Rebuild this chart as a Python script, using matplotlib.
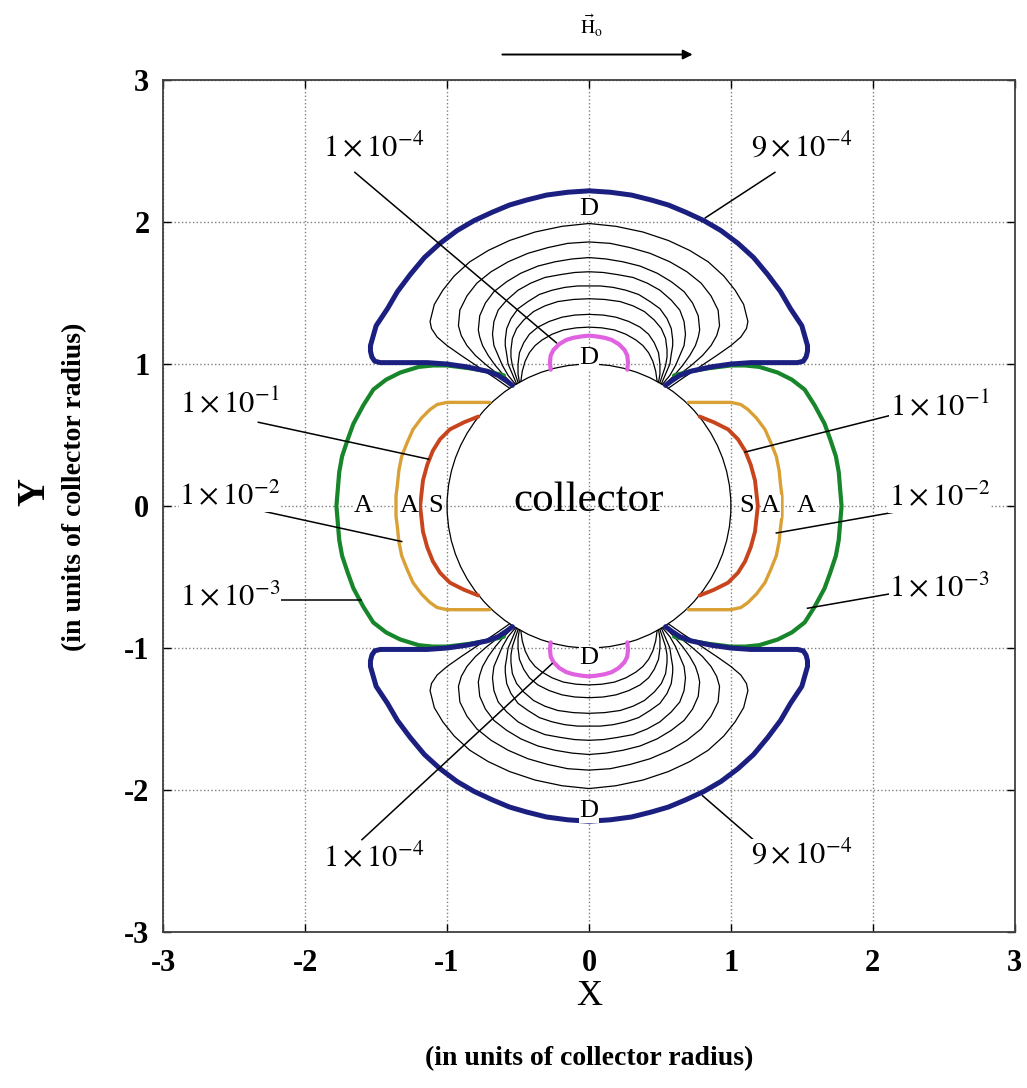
import matplotlib
matplotlib.use("Agg")
import matplotlib.pyplot as plt
import numpy as np
from matplotlib.patches import Circle

plt.rcParams["font.family"] = ["Liberation Serif", "DejaVu Serif"]
plt.rcParams["mathtext.fontset"] = "stix"
plt.rcParams["axes.unicode_minus"] = False

# ---- curve data, upper-left quadrant only (collector radius units) ----
# boundaries that arch over the collector (mirrored left/right, then top/bottom)
BLUE_Q = [(-0.54, 0.85), (-0.58, 0.88), (-0.64, 0.92), (-0.72, 0.95), (-0.86, 0.98),
          (-1.00, 1.00), (-1.14, 1.01), (-1.30, 1.01), (-1.47, 1.01), (-1.51, 1.02),
          (-1.53, 1.05), (-1.54, 1.09), (-1.54, 1.13), (-1.52, 1.20), (-1.50, 1.27),
          (-1.46, 1.33), (-1.42, 1.39), (-1.35, 1.51), (-1.26, 1.63), (-1.16, 1.75),
          (-1.05, 1.85), (-0.93, 1.94), (-0.81, 2.01), (-0.68, 2.07), (-0.56, 2.12),
          (-0.44, 2.155), (-0.30, 2.19), (-0.15, 2.21), (0.0, 2.22)]
MAGENTA_Q = [(-0.27, 0.96), (-0.275, 1.01), (-0.27, 1.06), (-0.25, 1.10), (-0.21, 1.14),
             (-0.16, 1.17), (-0.11, 1.185), (-0.05, 1.195), (0.0, 1.20)]
THIN_Q = [
    [(-0.56, 0.83), (-0.66, 0.90), (-0.78, 0.98), (-0.90, 1.06), (-1.00, 1.13), (-1.07, 1.19),
     (-1.11, 1.25), (-1.12, 1.30), (-1.09, 1.42), (-1.03, 1.52), (-0.95, 1.62), (-0.84, 1.72),
     (-0.71, 1.80), (-0.56, 1.87), (-0.38, 1.93), (-0.19, 1.97), (0.0, 1.99)],
    [(-0.54, 0.85), (-0.63, 0.92), (-0.72, 0.99), (-0.80, 1.06), (-0.86, 1.13), (-0.90, 1.20),
     (-0.92, 1.27), (-0.91, 1.38), (-0.86, 1.48), (-0.79, 1.57), (-0.69, 1.65), (-0.57, 1.72),
     (-0.43, 1.78), (-0.29, 1.82), (-0.15, 1.85), (0.0, 1.86)],
    [(-0.53, 0.85), (-0.60, 0.92), (-0.66, 0.99), (-0.71, 1.06), (-0.75, 1.13), (-0.77, 1.19),
     (-0.78, 1.24), (-0.77, 1.34), (-0.73, 1.43), (-0.67, 1.51), (-0.58, 1.58), (-0.48, 1.64),
     (-0.36, 1.69), (-0.24, 1.72), (-0.12, 1.74), (0.0, 1.75)],
    [(-0.52, 0.86), (-0.57, 0.92), (-0.61, 0.99), (-0.64, 1.06), (-0.67, 1.13), (-0.68, 1.21),
     (-0.67, 1.30), (-0.64, 1.38), (-0.58, 1.45), (-0.50, 1.52), (-0.41, 1.57), (-0.31, 1.61),
     (-0.20, 1.63), (-0.10, 1.645), (0.0, 1.65)],
    [(-0.51, 0.86), (-0.54, 0.93), (-0.57, 1.00), (-0.58, 1.07), (-0.59, 1.13), (-0.59, 1.17),
     (-0.58, 1.25), (-0.55, 1.32), (-0.50, 1.39), (-0.43, 1.44), (-0.35, 1.49), (-0.26, 1.52),
     (-0.17, 1.54), (-0.08, 1.55), (0.0, 1.55)],
    [(-0.50, 0.87), (-0.52, 0.93), (-0.54, 0.99), (-0.55, 1.05), (-0.55, 1.10), (-0.54, 1.18),
     (-0.51, 1.25), (-0.46, 1.31), (-0.39, 1.37), (-0.31, 1.41), (-0.22, 1.44), (-0.11, 1.455),
     (0.0, 1.46)],
    [(-0.49, 0.87), (-0.50, 0.93), (-0.50, 1.00), (-0.49, 1.08), (-0.46, 1.15), (-0.42, 1.21),
     (-0.36, 1.26), (-0.28, 1.30), (-0.19, 1.33), (-0.10, 1.345), (0.0, 1.35)],
    [(-0.48, 0.88), (-0.47, 0.95), (-0.45, 1.02), (-0.42, 1.08), (-0.38, 1.13), (-0.33, 1.17),
     (-0.26, 1.21), (-0.18, 1.24), (-0.09, 1.255), (0.0, 1.26)],
]
# boundaries on the sides of the collector (mirrored top/bottom, then left/right)
GREEN_Q = [(-0.60, 0.92), (-0.72, 0.95), (-0.84, 0.97), (-1.00, 0.99), (-1.10, 0.99),
           (-1.20, 0.98), (-1.33, 0.94), (-1.43, 0.89), (-1.52, 0.82), (-1.59, 0.71),
           (-1.66, 0.58), (-1.70, 0.47), (-1.74, 0.35), (-1.76, 0.24), (-1.77, 0.12),
           (-1.78, 0.0)]
ORANGE_Q = [(-0.70, 0.73), (-0.85, 0.73), (-1.00, 0.73), (-1.07, 0.715), (-1.12, 0.68),
            (-1.18, 0.62), (-1.24, 0.54), (-1.28, 0.45), (-1.32, 0.35), (-1.34, 0.25),
            (-1.35, 0.15), (-1.36, 0.07), (-1.36, 0.0)]
RED_Q = [(-0.78, 0.63), (-0.88, 0.59), (-0.98, 0.54), (-1.05, 0.47), (-1.10, 0.39),
         (-1.14, 0.29), (-1.17, 0.18), (-1.18, 0.09), (-1.19, 0.0)]
COLLECTOR_RADIUS = 1.0

TICKS = [-3, -2, -1, 0, 1, 2, 3]

# contour labels: text, text position, leader start, leader end
LABELS = [
    (r"$1\times10^{-4}$", (-1.52, 2.52), (-1.65, 2.35), (-0.23, 1.15)),
    (r"$9\times10^{-4}$", (1.50, 2.52), (1.31, 2.35), (0.82, 2.03)),
    (r"$1\times10^{-1}$", (-2.53, 0.72), (-2.33, 0.59), (-1.13, 0.33)),
    (r"$1\times10^{-2}$", (-2.53, 0.07), (-2.28, -0.04), (-1.32, -0.25)),
    (r"$1\times10^{-3}$", (-2.53, -0.64), (-2.26, -0.66), (-1.61, -0.66)),
    (r"$1\times10^{-1}$", (2.47, 0.70), (2.17, 0.65), (1.10, 0.38)),
    (r"$1\times10^{-2}$", (2.47, 0.06), (2.17, -0.04), (1.32, -0.19)),
    (r"$1\times10^{-3}$", (2.47, -0.58), (2.17, -0.61), (1.54, -0.72)),
    (r"$1\times10^{-4}$", (-1.52, -2.48), (-1.60, -2.35), (-0.26, -1.11)),
    (r"$9\times10^{-4}$", (1.50, -2.46), (1.17, -2.36), (0.80, -2.04)),
]
REGION_LETTERS = [("D", 0.0, 2.09), ("D", 0.0, 1.04), ("D", 0.0, -1.07), ("D", 0.0, -2.15),
                  ("A", -1.59, 0.0), ("A", -1.27, 0.0), ("S", -1.08, 0.0),
                  ("S", 1.11, 0.0), ("A", 1.28, 0.0), ("A", 1.53, 0.0)]


def arch(q):
    # left quadrant + mirrored right quadrant -> curve over the top
    q = np.asarray(q)
    right = q[::-1].copy()
    right[:, 0] *= -1
    return np.vstack([q, right[1:]])


def side(q):
    # upper-left quadrant + mirrored lower-left quadrant -> curve on the left side
    q = np.asarray(q)
    low = q[::-1].copy()
    low[:, 1] *= -1
    return np.vstack([q, low[1:]])


def draw_arch(ax, q, **kw):
    c = arch(q)
    ax.plot(c[:, 0], c[:, 1], **kw)
    ax.plot(c[:, 0], -c[:, 1], **kw)


def draw_side(ax, q, **kw):
    c = side(q)
    ax.plot(c[:, 0], c[:, 1], **kw)
    ax.plot(-c[:, 0], c[:, 1], **kw)


fig = plt.figure(figsize=(10.27, 10.88), dpi=100)
ax = fig.add_axes([0.159, 0.1434, 0.829, 0.783])

for q in THIN_Q:
    draw_arch(ax, q, color="black", lw=0.9, zorder=3)
draw_side(ax, RED_Q, color="#c8441c", lw=2.8, zorder=4, solid_capstyle="round")
draw_side(ax, ORANGE_Q, color="#d9a036", lw=2.4, zorder=4, solid_capstyle="round")
draw_side(ax, GREEN_Q, color="#17852a", lw=3.0, zorder=4, solid_capstyle="round")
draw_arch(ax, MAGENTA_Q, color="#e062e0", lw=3.0, zorder=4, solid_capstyle="round")
draw_arch(ax, BLUE_Q, color="#1b1f80", lw=3.6, zorder=5, solid_capstyle="round")

ax.add_patch(Circle((0, 0), COLLECTOR_RADIUS, fill=False, ec="black", lw=0.9, zorder=3))
ax.text(0, 0.04, "collector", fontsize=31, ha="center", va="center", zorder=6)

for text, (tx, ty), (x0, y0), (x1, y1) in LABELS:
    ax.plot([x0, x1], [y0, y1], color="black", lw=1.1, zorder=6)
    ax.text(tx, ty, text, fontsize=22, ha="center", va="center", zorder=7,
            bbox=dict(fc="white", ec="none", pad=0.5))

for letter, x, y in REGION_LETTERS:
    ax.text(x, y, letter, fontsize=19, ha="center", va="center", zorder=7,
            bbox=dict(fc="white", ec="none", pad=0.3))

# applied field arrow above the axes
ax.annotate("", xy=(0.75, 3.18), xytext=(-0.63, 3.18), annotation_clip=False,
            arrowprops=dict(arrowstyle="-|>", color="black", lw=1.4, mutation_scale=14))
ax.text(0.02, 3.38, r"$\vec{\mathrm{H}}_{\mathrm{o}}$", fontsize=14, ha="center", va="center",
        clip_on=False)

ax.set_xlim(-3, 3)
ax.set_ylim(-3, 3)
ax.set_xticks(TICKS)
ax.set_yticks(TICKS)
ax.set_xticklabels([str(t) for t in TICKS], fontsize=22, fontweight="bold")
ax.set_yticklabels([str(t) for t in TICKS], fontsize=22, fontweight="bold")
ax.tick_params(direction="in", top=True, right=True, length=6, width=1)
ax.tick_params(axis="x", pad=12)
ax.tick_params(axis="y", pad=10)
ax.grid(True, linestyle=":", color="0.5", linewidth=1.0)
for s in ax.spines.values():
    s.set_linewidth(1.3)
    s.set_color("0.25")

fig.text(0.5735, 0.084, "X", fontsize=26, ha="center", va="center")
fig.text(0.5735, 0.027, "(in units of collector radius)", fontsize=20, fontweight="bold",
         ha="center", va="center")
fig.text(0.034, 0.548, "Y", fontsize=28, fontweight="bold", ha="center", va="center",
         rotation=90)
fig.text(0.073, 0.553, "(in units of collector radius)", fontsize=20, fontweight="bold",
         ha="center", va="center", rotation=90)

fig.savefig("out.png", dpi=100)
